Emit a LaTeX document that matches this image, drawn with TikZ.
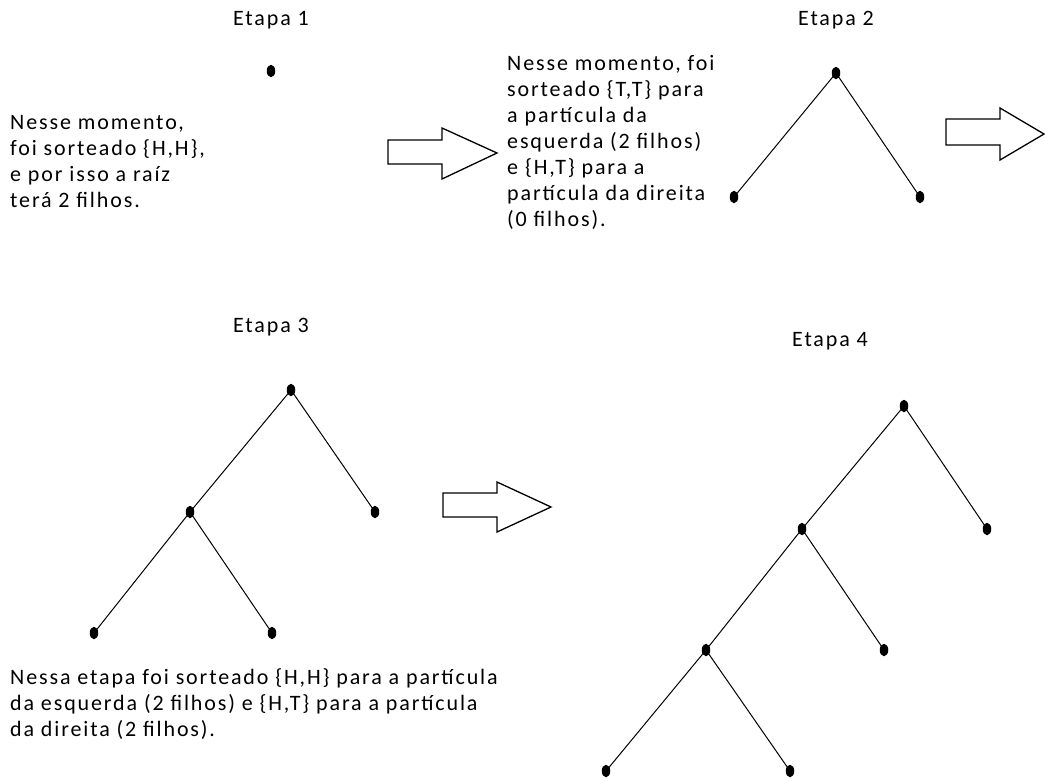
\documentclass[tikz,border=0pt]{standalone}
\usepackage{fontspec}
\setmainfont{Carlito}[LetterSpace=8.5]
\usetikzlibrary{shapes.geometric}
\tikzset{
  dot/.style={ellipse, fill=black, draw=none, minimum width=8.5pt, minimum height=12.5pt, inner sep=0pt},
  edge/.style={line width=1pt, black},
  bigarrow/.style={draw=black, line width=1.3pt, fill=white, line join=miter},
  label/.style={font=\fontsize{22}{26}\selectfont, inner sep=0pt, anchor=base},
  para/.style={font=\fontsize{22}{26}\selectfont, inner sep=0pt, align=left, anchor=base west}
}
\begin{document}
\begin{tikzpicture}[x=1pt,y=-1pt]
\useasboundingbox (0,0) rectangle (1045,780);
% labels
\node[label] (e1) at (271,25) {Etapa 1};
\node[label] (e2) at (836,25) {Etapa 2};
\node[label] (e3) at (271,332) {Etapa 3};
\node[label] (e4) at (830,346) {Etapa 4};
% paragraphs (anchor = baseline of last line)
\node[para] (t1) at (10,207) {Nesse momento,\\foi sorteado \{H,H\},\\e por isso a raíz\\terá 2 filhos.};
\node[para] (t2) at (507,226) {Nesse momento, foi\\sorteado \{T,T\} para\\a partícula da\\esquerda (2 filhos)\\e \{H,T\} para a\\partícula da direita\\(0 filhos).};
\node[para] (t3) at (10,736) {Nessa etapa foi sorteado \{H,H\} para a partícula\\da esquerda (2 filhos) e \{H,T\} para a partícula\\da direita (2 filhos).};
% arrows
\draw[bigarrow] (388,140) -- (442,140) -- (442,128) -- (497,153) -- (442,179) -- (442,164) -- (388,164) -- cycle;
\draw[bigarrow] (946,119) -- (1000,119) -- (1000,108) -- (1044,134) -- (1000,160) -- (1000,145) -- (946,145) -- cycle;
\draw[bigarrow] (443,493) -- (497,493) -- (497,482) -- (551,507) -- (497,532) -- (497,517) -- (443,517) -- cycle;
% Etapa 1
\node[dot] (a0) at (271,71) {};
% Etapa 2
\node[dot] (b0) at (836,73) {};
\node[dot] (b1) at (734,197) {};
\node[dot] (b2) at (920,197) {};
\draw[edge] (b0.center) -- (b1.center);
\draw[edge] (b0.center) -- (b2.center);
% Etapa 3
\node[dot] (c0) at (291,390) {};
\node[dot] (c1) at (190,512) {};
\node[dot] (c2) at (375,512) {};
\node[dot] (c3) at (94,633) {};
\node[dot] (c4) at (272,633) {};
\draw[edge] (c0.center) -- (c1.center);
\draw[edge] (c0.center) -- (c2.center);
\draw[edge] (c1.center) -- (c3.center);
\draw[edge] (c1.center) -- (c4.center);
% Etapa 4
\node[dot] (d0) at (904,406) {};
\node[dot] (d1) at (802,529) {};
\node[dot] (d2) at (987,529) {};
\node[dot] (d3) at (706,650) {};
\node[dot] (d4) at (884,650) {};
\node[dot] (d5) at (606,771) {};
\node[dot] (d6) at (790,771) {};
\draw[edge] (d0.center) -- (d1.center);
\draw[edge] (d0.center) -- (d2.center);
\draw[edge] (d1.center) -- (d3.center);
\draw[edge] (d1.center) -- (d4.center);
\draw[edge] (d3.center) -- (d5.center);
\draw[edge] (d3.center) -- (d6.center);
\end{tikzpicture}
\end{document}
